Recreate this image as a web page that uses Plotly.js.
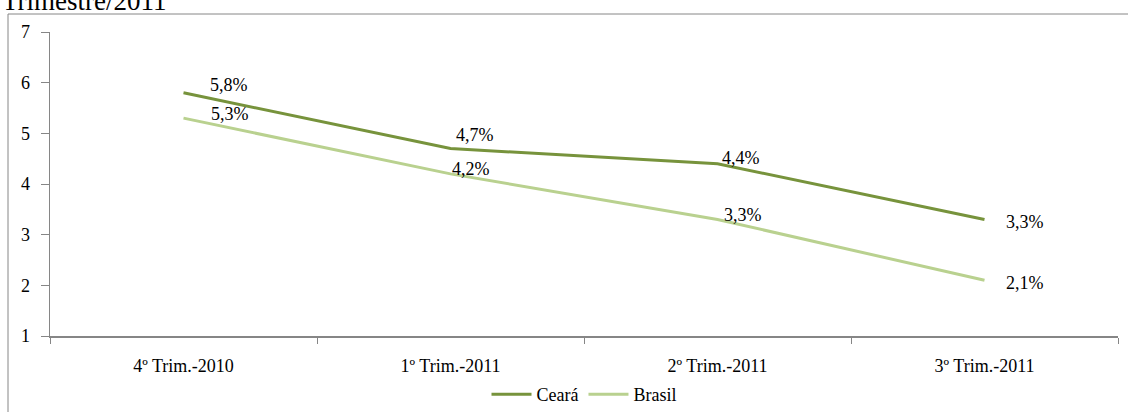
<!DOCTYPE html>
<html><head><meta charset="utf-8">
<script src="https://cdn.plot.ly/plotly-3.0.1.min.js"></script>
<style>html,body{margin:0;padding:0;background:#fff}#chart{width:1128px;height:412px}</style>
</head><body><div id="chart"></div>
<script>
const categories = ['4º Trim.-2010', '1º Trim.-2011', '2º Trim.-2011', '3º Trim.-2011'];
const ceara = [5.8, 4.7, 4.4, 3.3];
const brasil = [5.3, 4.2, 3.3, 2.1];
const cearaLabels = ['5,8%', '4,7%', '4,4%', '3,3%'];
const brasilLabels = ['5,3%', '4,2%', '3,3%', '2,1%'];
const titleText = 'Trimestre/2011';

const cCeara = '#77933C', cBrasil = '#B9D18F';
const fam = 'Liberation Serif, Times New Roman, serif';
const font = {family: fam, size: 18, color: '#000'};

// label offsets (pixels) – style only
const cearaShift = [[45,8],[24,14],[23,6],[40,-3]];
const brasilShift = [[46,4],[20,5],[25,4],[40,-3]];

const annotations = [];
categories.forEach((c,i)=>{
  annotations.push({x:c, y:ceara[i], text:cearaLabels[i], showarrow:false, xshift:cearaShift[i][0], yshift:cearaShift[i][1], font:font});
  annotations.push({x:c, y:brasil[i], text:brasilLabels[i], showarrow:false, xshift:brasilShift[i][0], yshift:brasilShift[i][1], font:font});
});
annotations.push({xref:'paper', yref:'paper', x:-50/1068, y:1.045, xanchor:'left', yanchor:'bottom', text:titleText, showarrow:false, font:{family:fam, size:27, color:'#000'}});

const traces = [
  {x:categories, y:ceara, name:'Ceará', type:'scatter', mode:'lines', line:{color:cCeara, width:3}},
  {x:categories, y:brasil, name:'Brasil', type:'scatter', mode:'lines', line:{color:cBrasil, width:3}}
];

const layout = {
  width:1128, height:412,
  margin:{l:50, r:10, t:32, b:76, autoexpand:false},
  paper_bgcolor:'#fff', plot_bgcolor:'#fff',
  font:font,
  showlegend:true,
  legend:{orientation:'h', xref:'paper', x:0.5, xanchor:'center', yref:'container', y:(412-376)/412, yanchor:'top', font:font, itemwidth:40, tracegroupgap:0},
  xaxis:{type:'category', range:[-0.5,3.5], automargin:false, showgrid:false, zeroline:false, showline:true, linecolor:'#868686', linewidth:1.5,
         ticks:'outside', tickson:'boundaries', ticklen:6, tickcolor:'#868686', tickfont:font, ticklabelstandoff:13},
  yaxis:{range:[1,7], dtick:1, automargin:false, showgrid:false, zeroline:false, showline:true, linecolor:'#868686', linewidth:1.5,
         ticks:'outside', ticklen:8, tickcolor:'#868686', tickfont:font, ticklabelstandoff:7},
  annotations:annotations,
  shapes:[{type:'rect', xref:'paper', yref:'paper', x0:(8-50)/1068, x1:1.05, y0:-0.4, y1:1+(32-14)/304, line:{color:'#868686', width:1}, fillcolor:'rgba(0,0,0,0)'}]
};

Plotly.newPlot('chart', traces, layout, {displayModeBar:false, staticPlot:true});
</script></body></html>
